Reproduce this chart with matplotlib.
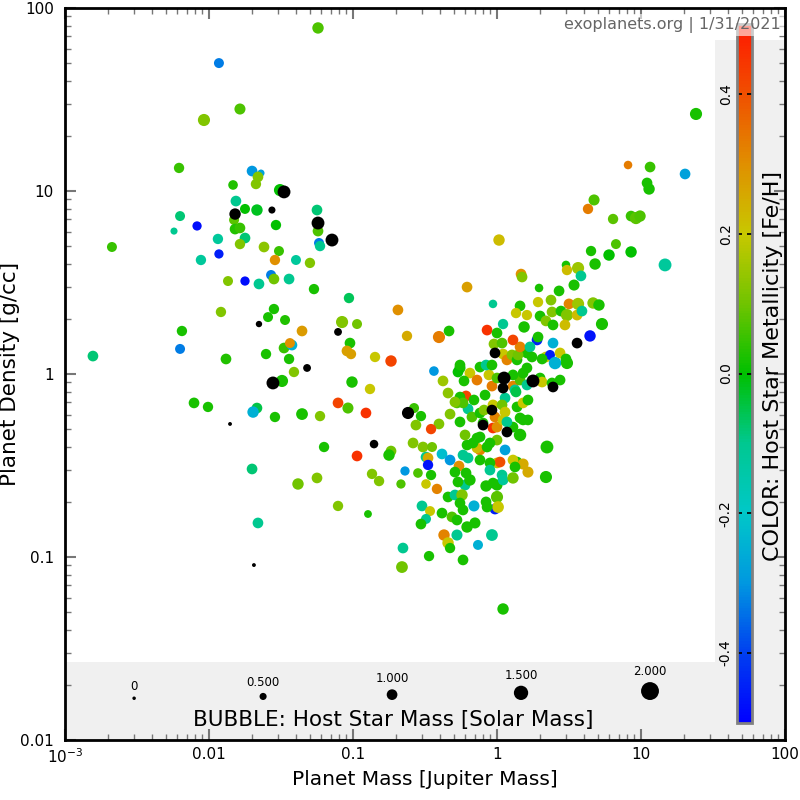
import numpy as np
import matplotlib
matplotlib.use("Agg")
import matplotlib.pyplot as plt
from matplotlib.colors import LinearSegmentedColormap, Normalize
from matplotlib.patches import Rectangle

nan = float("nan")

# log10 of planet mass [Jupiter masses]
log_mass = [
    -1.243, -1.931, -1.785, -2.035, -2.208, -1.701, -1.639, -1.660, -1.674, -1.833,
    -1.507, -1.479, -1.813, -1.750, -1.819, -1.667, -1.563, -2.201, -2.083, -2.243,
    -1.826, -1.819, -1.785, -1.750, -1.535, -1.250, -1.243, -1.243, -1.236, -1.229,
    -1.146, -2.674, -1.938, -1.785, -1.618, -1.514, -1.931, -2.056, -1.542, -1.396,
    -1.299, -1.868, -1.750, -1.653, -1.569, -1.549, -1.444, -1.271, -1.028, -1.917,
    -1.549, -1.590, -1.472, -1.653, -2.188, -1.354, -2.201, -2.806, -1.882, -1.604,
    -1.479, -1.424, -1.438, -1.444, -1.319, -1.410, -1.556, -1.493, -2.104, -2.007,
    -1.667, -1.694, -1.542, -1.354, -1.229, -1.854, -1.201, -1.701, -1.382, -1.250,
    -1.660, -1.688, -0.208, -0.028, -0.688, -1.076, -0.972, -1.104, -1.021, -1.042,
    -1.014, -0.625, -0.403, -0.333, -0.069, 0.000, -0.847, -0.736, -1.007, -0.882,
    -0.438, -0.375, -0.340, -0.257, -0.271, -0.188, -0.229, -0.139, -0.118, -0.056,
    -0.035, -0.083, -1.104, -1.035, -0.910, -0.618, -0.576, -0.528, -0.563, -0.403,
    -0.326, -0.278, -0.215, -0.201, -0.257, -0.458, -0.854, -0.583, -0.514, -0.451,
    -0.972, -0.868, -0.819, -0.736, -0.750, -0.493, -0.479, -0.479, -0.382, -0.326,
    -0.264, -0.236, -0.201, -0.639, -0.549, -0.458, -0.493, -0.667, -0.417, -0.292,
    -0.215, -0.222, -0.188, -0.340, -0.292, -0.243, -0.257, -0.160, -0.236, -0.313,
    -0.382, -0.521, -0.465, -0.493, -0.528, -0.208, -0.153, -0.368, -0.278, -0.340,
    -0.326, -0.035, -0.132, -0.653, -0.472, -0.660, -0.236, 0.042, 0.347, 0.340,
    -1.104, -0.896, -0.076, 0.000, 0.000, -0.076, -0.014, 0.007, 0.000, 0.035,
    0.042, 0.111, 0.139, 0.181, 0.215, 0.160, 0.056, 0.021, 0.069, -0.028,
    -0.097, -0.118, -0.139, -0.069, -0.208, -0.118, -0.049, -0.139, -0.222, 0.000,
    -0.257, -0.076, -0.035, 0.000, -0.014, -0.021, 0.035, 0.042, 0.069, 0.104,
    0.139, 0.049, 0.042, 0.111, 0.125, 0.160, 0.208, 0.250, 0.181, 0.208,
    0.299, 0.340, 0.368, 0.403, 0.486, 0.556, 0.438, 0.278, 0.389, 0.285,
    0.208, 0.146, 0.160, 0.111, -0.257, -0.160, -0.236, -0.292, -0.174, -0.118,
    -0.090, -0.035, -0.014, 0.000, 0.042, 0.111, 0.181, 0.215, -0.118, -0.167,
    -0.049, 0.111, 0.125, -0.049, -0.028, -0.271, -0.278, -0.069, 0.167, 0.174,
    0.014, 0.292, 0.431, 0.535, 0.160, 0.285, 0.375, 0.500, 0.563, 0.667,
    0.708, 0.132, 0.208, 0.299, 0.382, 0.444, 0.486, 0.556, 0.590, 0.729,
    0.042, 0.188, 0.340, 0.389, 0.472, 0.646, 0.479, 0.229, 0.243, 0.313,
    0.111, 0.313, 0.382, 0.389, 0.438, 0.132, 0.056, -0.028, 0.035, 0.139,
    0.181, 0.215, 0.056, 0.160, 0.069, -0.097, 1.382, 0.910, 1.063, 1.306,
    1.042, 1.056, 0.674, 0.632, 0.806, 0.931, 0.965, 0.993, 0.826, 0.653,
    0.778, 0.931, 1.167, 0.681, 0.479, 0.486, 0.563, 0.583,
]

# log10 of planet density [g/cc]
log_density = [
    1.891, 1.699, 1.448, 1.388, 1.126, 1.109, 1.098, 1.077, 1.038, 1.033,
    1.005, 0.995, 0.945, 0.902, 0.874, 0.896, 0.896, 0.863, 0.809, 0.781,
    0.842, 0.792, 0.798, 0.743, 0.814, 0.896, 0.825, 0.781, 0.716, 0.699,
    0.732, 0.694, 0.738, 0.710, 0.694, 0.672, 0.656, 0.623, 0.623, 0.623,
    0.607, 0.508, 0.508, 0.492, 0.541, 0.519, 0.519, 0.464, 0.415, 0.339,
    0.355, 0.311, 0.295, 0.273, 0.235, 0.235, 0.137, 0.098, 0.082, 0.109,
    0.142, 0.158, 0.169, 0.082, 0.033, 0.011, -0.049, -0.038, -0.158, -0.180,
    -0.186, -0.208, -0.235, -0.219, -0.230, -0.273, -0.399, -0.519, -0.601, -0.568,
    -0.814, -1.044, 0.475, 0.383, 0.350, 0.284, 0.273, 0.230, 0.169, 0.126,
    0.109, 0.208, 0.202, 0.235, 0.240, 0.224, 0.093, 0.071, -0.044, -0.082,
    0.016, -0.038, -0.104, 0.033, 0.011, 0.005, -0.038, -0.033, 0.038, -0.005,
    -0.066, -0.115, -0.158, -0.186, -0.213, -0.213, -0.186, -0.230, -0.279, -0.273,
    -0.219, -0.158, -0.120, -0.191, -0.262, -0.301, -0.383, -0.377, -0.399, -0.399,
    -0.448, -0.546, -0.585, -0.421, -0.443, -0.454, -0.459, -0.497, -0.437, -0.470,
    -0.503, -0.443, -0.459, -0.530, -0.541, -0.552, -0.601, -0.601, -0.628, -0.536,
    -0.541, -0.607, -0.579, -0.672, -0.661, -0.661, -0.705, -0.721, -0.743, -0.781,
    -0.760, -0.721, -0.749, -0.792, -0.820, -0.836, -0.814, -0.880, -0.880, -0.923,
    -0.951, -0.880, -0.934, -0.951, -0.995, -1.055, -1.016, -1.284, -0.399, -0.563,
    -0.721, -0.765, -0.612, -0.607, -0.672, -0.699, -0.738, -0.727, -0.486, -0.552,
    -0.579, -0.568, -0.481, -0.492, -0.536, -0.333, -0.415, -0.481, -0.317, -0.295,
    -0.279, -0.415, -0.404, -0.399, -0.388, -0.470, -0.486, -0.350, -0.333, -0.361,
    0.049, 0.049, 0.049, -0.022, 0.115, 0.164, 0.169, 0.109, 0.077, 0.104,
    0.077, -0.022, -0.077, -0.066, -0.087, -0.033, -0.060, -0.038, 0.005, 0.033,
    -0.022, 0.093, 0.104, 0.060, 0.060, 0.169, 0.115, 0.186, 0.169, 0.202,
    0.115, 0.104, 0.148, 0.186, -0.126, -0.142, -0.158, -0.153, -0.235, -0.213,
    -0.197, -0.197, -0.235, -0.290, -0.251, -0.290, -0.251, -0.251, -0.344, -0.377,
    -0.377, -0.470, -0.508, -0.525, -0.596, -0.590, -0.798, -0.727, 0.546, 0.530,
    0.732, 0.470, 0.454, 0.486, 0.372, 0.393, 0.404, 0.383, 0.383, 0.388,
    0.377, 0.333, 0.322, 0.317, 0.339, 0.344, 0.322, 0.322, 0.344, 0.273,
    0.273, 0.257, 0.290, 0.268, 0.268, 0.208, 0.082, 0.148, 0.093, 0.082,
    -0.005, -0.044, -0.049, -0.071, -0.033, -0.098, -0.131, -0.169, -0.169, -0.180,
    -0.158, -0.142, -0.208, -0.240, -0.262, -0.268, 1.421, 1.142, 1.131, 1.093,
    1.044, 1.011, 0.951, 0.902, 0.847, 0.863, 0.852, 0.863, 0.710, 0.672,
    0.650, 0.667, 0.596, 0.601, 0.596, 0.568, 0.579, 0.536,
]

# host star metallicity [Fe/H]; nan = not known (drawn black)
host_feh = [
    0.07, -0.33, 0.07, 0.12, 0.05, -0.30, -0.28, 0.12, 0.12, 0.03,
    0.00, nan, -0.10, 0.00, nan, -0.02, nan, -0.08, -0.48, -0.10,
    0.08, 0.03, 0.05, -0.08, 0.00, -0.08, nan, 0.07, -0.33, -0.10,
    nan, 0.05, -0.12, 0.12, 0.13, 0.05, -0.45, -0.12, 0.30, -0.12,
    0.12, 0.12, -0.48, -0.10, -0.33, 0.10, -0.10, 0.02, -0.06, 0.12,
    0.02, 0.02, 0.03, nan, 0.02, 0.28, -0.33, -0.08, 0.03, 0.02,
    0.05, -0.25, 0.30, 0.02, nan, 0.12, nan, 0.02, 0.02, 0.02,
    -0.05, -0.25, 0.02, 0.02, 0.12, nan, 0.02, -0.08, 0.10, 0.12,
    -0.10, nan, 0.27, -0.10, 0.30, 0.12, 0.10, nan, 0.02, 0.27,
    0.27, 0.25, 0.33, 0.02, 0.45, 0.02, 0.20, 0.42, 0.02, 0.20,
    -0.30, 0.15, 0.13, 0.02, 0.00, 0.20, 0.02, 0.33, 0.02, 0.20,
    0.33, 0.02, 0.42, 0.07, 0.45, nan, 0.05, 0.02, 0.12, 0.12,
    0.12, 0.07, 0.42, -0.10, 0.02, 0.42, nan, 0.12, 0.12, 0.10,
    0.45, 0.12, 0.12, 0.10, 0.02, -0.10, 0.25, -0.47, -0.22, -0.30,
    0.30, -0.10, -0.10, -0.30, 0.07, 0.02, 0.20, 0.07, 0.32, 0.02,
    0.02, -0.10, 0.02, 0.02, -0.10, 0.12, 0.02, -0.25, 0.02, 0.07,
    0.02, -0.10, 0.20, -0.10, 0.02, 0.02, 0.02, 0.32, -0.10, 0.20,
    0.02, -0.10, -0.25, -0.10, 0.02, 0.10, 0.02, 0.02, 0.02, 0.02,
    0.12, 0.02, 0.02, 0.02, 0.08, 0.02, -0.45, 0.20, 0.22, -0.10,
    -0.12, 0.10, 0.02, 0.25, 0.25, 0.02, -0.28, 0.40, nan, 0.45,
    nan, 0.32, 0.22, 0.02, 0.02, 0.02, 0.02, 0.02, 0.10, 0.10,
    0.02, -0.10, 0.02, 0.07, nan, 0.12, 0.07, 0.20, 0.32, 0.12,
    0.02, nan, nan, 0.32, -0.10, 0.07, -0.10, nan, 0.02, 0.02,
    0.02, 0.20, -0.45, -0.25, 0.02, nan, 0.20, -0.45, -0.25, 0.02,
    0.02, 0.10, 0.32, 0.42, 0.02, 0.02, 0.07, 0.12, 0.07, 0.02,
    0.12, nan, 0.32, 0.30, 0.20, 0.02, 0.02, 0.02, 0.02, 0.02,
    0.02, 0.20, 0.02, -0.10, 0.02, 0.02, 0.02, 0.02, 0.30, 0.12,
    0.22, 0.02, 0.02, 0.02, 0.02, 0.20, 0.12, 0.32, 0.15, 0.12,
    0.02, 0.20, 0.20, 0.02, 0.12, 0.02, 0.12, 0.22, -0.10, 0.02,
    -0.10, 0.02, 0.12, 0.02, 0.22, -0.47, 0.02, -0.10, 0.02, 0.02,
    0.02, 0.20, 0.02, nan, 0.02, -0.05, -0.10, 0.20, 0.10, 0.02,
    0.20, 0.02, 0.20, 0.02, -0.10, 0.02, 0.02, 0.33, 0.05, -0.28,
    0.02, 0.02, 0.07, 0.33, 0.08, 0.05, 0.08, 0.07, 0.07, 0.02,
    0.00, 0.00, -0.12, 0.02, 0.02, 0.22, 0.15, -0.10,
]

# host star mass [solar masses] -> bubble size
host_mass = [
    1.1, 0.9, 1.05, 1.2, 0.95, 1.0, 0.5, 1.0, 0.95, 0.85,
    1.2, 1.3, 1.0, 0.9, 1.1, 1.1, 0.5, 0.9, 0.8, 0.5,
    0.9, 1.0, 1.0, 1.0, 0.95, 1.0, 1.3, 1.0, 0.9, 0.95,
    1.3, 0.9, 0.95, 0.95, 1.0, 0.9, 0.8, 0.95, 0.95, 0.9,
    0.95, 0.9, 0.8, 1.0, 0.9, 1.0, 1.0, 0.95, 0.95, 0.95,
    0.95, 0.9, 0.9, 0.4, 0.95, 1.0, 0.9, 1.0, 1.0, 0.95,
    1.0, 1.0, 0.9, 0.95, 0.6, 0.95, 1.3, 1.2, 1.0, 0.95,
    1.0, 1.1, 0.95, 1.15, 0.95, 0.05, 0.95, 1.0, 1.1, 1.0,
    1.0, 0.05, 1.0, 0.7, 1.0, 1.2, 0.9, 0.6, 1.0, 1.0,
    0.95, 0.95, 1.2, 1.0, 1.0, 1.0, 0.95, 1.1, 1.1, 0.95,
    0.85, 1.0, 1.0, 1.05, 1.0, 1.0, 1.0, 1.0, 1.0, 1.0,
    1.0, 1.0, 1.0, 1.05, 1.0, 1.2, 0.9, 0.95, 1.0, 1.0,
    1.0, 1.0, 1.0, 1.0, 1.0, 0.95, 0.7, 1.0, 1.0, 0.9,
    1.0, 0.95, 0.95, 1.0, 1.1, 1.0, 1.0, 0.95, 1.0, 1.0,
    1.0, 1.0, 1.0, 0.8, 0.85, 0.95, 0.85, 0.8, 0.95, 1.0,
    1.0, 1.0, 1.1, 1.0, 1.0, 1.1, 1.0, 1.05, 1.0, 1.0,
    1.0, 1.0, 0.9, 0.9, 1.0, 1.1, 1.05, 1.1, 1.05, 1.1,
    0.95, 1.15, 0.9, 1.0, 0.95, 1.15, 1.0, 1.1, 1.3, 1.2,
    0.95, 0.6, 1.1, 1.05, 1.2, 1.0, 1.0, 1.15, 1.0, 1.0,
    1.0, 1.1, 1.0, 1.05, 1.05, 1.25, 1.0, 1.0, 1.0, 1.0,
    1.0, 1.0, 1.0, 1.0, 1.0, 1.0, 1.0, 1.0, 1.0, 1.0,
    1.0, 1.0, 1.0, 1.0, 1.0, 1.0, 1.0, 1.0, 1.0, 1.0,
    1.0, 1.3, 1.0, 1.0, 1.0, 1.0, 1.0, 1.3, 1.0, 1.0,
    1.0, 1.0, 0.9, 1.25, 1.2, 1.0, 1.0, 1.0, 1.0, 1.0,
    1.0, 1.0, 1.0, 1.0, 1.0, 1.0, 1.0, 1.0, 1.0, 1.0,
    1.0, 1.0, 1.0, 1.0, 1.0, 1.0, 1.0, 1.0, 1.0, 1.0,
    1.0, 1.0, 1.0, 1.0, 1.0, 1.0, 1.0, 1.0, 1.0, 1.0,
    1.1, 0.7, 1.0, 1.05, 1.0, 0.95, 1.0, 1.0, 1.2, 1.1,
    1.1, 0.95, 0.95, 1.0, 1.0, 1.0, 1.2, 1.0, 1.0, 1.2,
    0.95, 1.1, 1.0, 1.0, 1.0, 1.1, 1.0, 1.0, 1.0, 1.0,
    1.0, 1.0, 1.0, 1.0, 1.0, 1.0, 1.0, 1.0, 1.0, 1.0,
    1.0, 1.0, 1.0, 1.0, 1.0, 1.0, 1.2, 0.7, 1.0, 1.0,
    1.0, 1.1, 1.05, 0.95, 0.95, 1.0, 1.2, 1.1, 0.9, 0.95,
    1.1, 1.1, 1.3, 1.1, 0.7, 0.95, 1.2, 1.0,
]

x_ticks = [1e-3, 1e-2, 1e-1, 1, 10, 100]
x_ticklabels = ["$10^{-3}$", "0.01", "0.1", "1", "10", "100"]
y_ticks = [0.01, 0.1, 1, 10, 100]
y_ticklabels = ["0.01", "0.1", "1", "10", "100"]
feh_ticks = [-0.4, -0.2, 0.0, 0.2, 0.4]
feh_ticklabels = ["-0.4", "-0.2", "0.0", "0.2", "0.4"]
bubble_masses = [0.0, 0.5, 1.0, 1.5, 2.0]
bubble_labels = ["0", "0.500", "1.000", "1.500", "2.000"]

assert len(log_mass) == len(log_density) == len(host_feh) == len(host_mass)


def bubble_diam_px(m):
    return 3.5 + 7.2 * np.asarray(m, dtype=float)


def bubble_size(m):
    # scatter wants area in pt^2 (100 dpi -> 0.72 pt per pixel)
    return (bubble_diam_px(m) * 0.72) ** 2


metal_cmap = LinearSegmentedColormap.from_list("feh", [
    (0.00, "#0000ff"), (0.10, "#0040f0"), (0.20, "#0098e0"),
    (0.30, "#00c8c8"), (0.40, "#00c890"), (0.50, "#00c000"),
    (0.60, "#70c400"), (0.70, "#c8c800"), (0.80, "#e09000"),
    (0.90, "#f05000"), (1.00, "#ff1800"),
])
norm = Normalize(vmin=-0.5, vmax=0.5)

mass = 10 ** np.array(log_mass)
dens = 10 ** np.array(log_density)
feh = np.array(host_feh, dtype=float)
mstar = np.array(host_mass)
known = ~np.isnan(feh)

plt.rcParams["font.family"] = "DejaVu Sans"

fig = plt.figure(figsize=(8, 8), dpi=100)
ax = fig.add_axes([65 / 800, 60 / 800, 720 / 800, 732 / 800])
ax.set_xscale("log")
ax.set_yscale("log")
ax.set_xlim(1e-3, 100)
ax.set_ylim(0.01, 100)

# grey panels for the legends
ax.add_patch(Rectangle((0, 0), 1, 0.1066, transform=ax.transAxes,
                       facecolor="#f0f0f0", edgecolor="none", zorder=0))
ax.add_patch(Rectangle((0.9028, 0.1066), 0.0972, 0.85, transform=ax.transAxes,
                       facecolor="#f0f0f0", edgecolor="none", zorder=0))

sc = ax.scatter(mass[known], dens[known], s=bubble_size(mstar[known]),
                c=feh[known], cmap=metal_cmap, norm=norm,
                edgecolors="none", zorder=2)
ax.scatter(mass[~known], dens[~known], s=bubble_size(mstar[~known]),
           color="black", edgecolors="none", zorder=2)

# bubble legend
bx = np.linspace(0.096, 0.8125, len(bubble_masses))
d = bubble_diam_px(bubble_masses)
by = (740 - (700 - d / 2)) / 732
ly = (740 - (700 - d - 4)) / 732
ax.scatter(bx, by, s=bubble_size(bubble_masses), color="black",
           edgecolors="none", transform=ax.transAxes, zorder=3, clip_on=False)
for x, y, lab in zip(bx, ly, bubble_labels):
    ax.text(x, y, lab, transform=ax.transAxes, ha="center", va="bottom",
            fontsize=8.5)
ax.text(0.456, 0.027, "BUBBLE: Host Star Mass [Solar Mass]",
        transform=ax.transAxes, ha="center", va="center", fontsize=15.5)

ax.set_xticks(x_ticks)
ax.set_xticklabels(x_ticklabels)
ax.set_yticks(y_ticks)
ax.set_yticklabels(y_ticklabels)
ax.tick_params(which="both", direction="in", top=True, right=True,
               color="#777777", labelsize=11)
ax.tick_params(which="major", length=8, width=1.5)
ax.tick_params(which="minor", length=4, width=1)
ax.tick_params(axis="y", pad=8)
ax.tick_params(axis="x", pad=5)
for sp in ax.spines.values():
    sp.set_linewidth(2)
    sp.set_color("black")

ax.set_xlabel("Planet Mass [Jupiter Mass]", fontsize=14.5, labelpad=3)
ax.set_ylabel("Planet Density [g/cc]", fontsize=15.5, labelpad=0)

# colour bar
cax = fig.add_axes([737 / 800, 77 / 800, 15 / 800, 699 / 800])
cb = fig.colorbar(sc, cax=cax)
cb.outline.set_edgecolor("#808080")
cb.outline.set_linewidth(2)
cax.yaxis.set_ticks_position("left")
cb.set_ticks(feh_ticks)
cb.set_ticklabels(feh_ticklabels)
cax.tick_params(length=0, pad=3, labelsize=10)
for lab in cax.get_yticklabels():
    lab.set_rotation(90)
    lab.set_va("center")
for t in feh_ticks:
    cax.axhline(t, color="black", lw=1.2, ls=(0, (3, 3)))

fig.text(773 / 800, 1 - 366 / 800, "COLOR: Host Star Metallicity [Fe/H]",
         rotation=90, ha="center", va="center", fontsize=16)
fig.text(781 / 800, 1 - 25 / 800, "exoplanets.org | 1/31/2021",
         ha="right", va="center", fontsize=11.5, color="#666666",
         bbox=dict(facecolor="white", alpha=0.6, edgecolor="none", pad=2))

fig.savefig("out.png", dpi=100)
